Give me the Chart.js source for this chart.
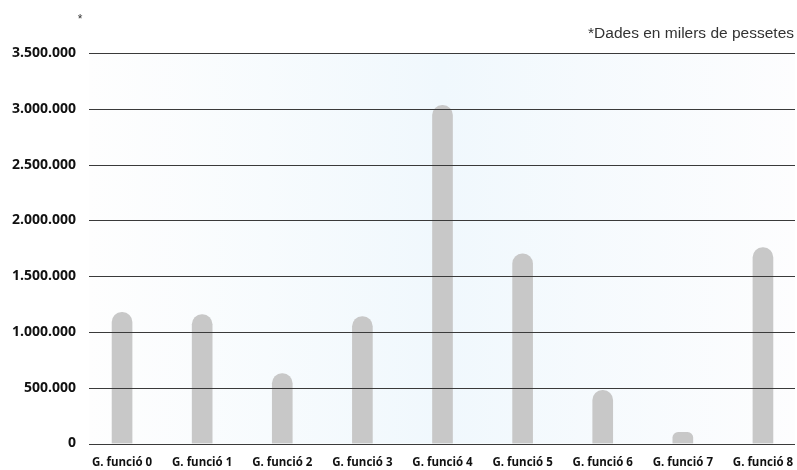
<!DOCTYPE html>
<html><head><meta charset="utf-8">
<script src="https://cdn.jsdelivr.net/npm/chart.js@4/dist/chart.umd.min.js"></script>
<style>
html,body{margin:0;padding:0;overflow:hidden;background:#fff;}
#wrap{width:810px;height:470px;position:relative;}
</style>
</head><body>
<div id="wrap"><canvas id="c"></canvas></div>
<script>
const categories = ['G. funció 0','G. funció 1','G. funció 2','G. funció 3','G. funció 4','G. funció 5','G. funció 6','G. funció 7','G. funció 8'];
const values = [1175000, 1155000, 627000, 1137000, 3030000, 1700000, 477000, 100000, 1755000];
const yTicks = [0, 500000, 1000000, 1500000, 2000000, 2500000, 3000000, 3500000];
const noteText = '*Dades en milers de pessetes';
const starText = '*';

function fmt(v){ return v.toString().replace(/\B(?=(\d{3})+(?!\d))/g, '.'); }

const GRID_L = 89, GRID_R = 795;

const decor = {
  id: 'decor',
  beforeDatasetsDraw(chart){
    const {ctx, chartArea:a} = chart;
    const g = ctx.createLinearGradient(GRID_L, 0, GRID_R, 0);
    g.addColorStop(0, '#fefefe');
    g.addColorStop(0.5, '#f0f8fd');
    g.addColorStop(1, '#fdfdfe');
    ctx.save();
    ctx.fillStyle = g;
    ctx.fillRect(GRID_L, a.top, GRID_R - GRID_L, a.bottom - a.top);
    ctx.restore();
  },
  afterDatasetsDraw(chart){
    const {ctx} = chart;
    const y = chart.scales.y;
    ctx.save();
    ctx.strokeStyle = '#3a3a3a';
    ctx.lineWidth = 1.2;
    yTicks.forEach(v => {
      const py = Math.round(y.getPixelForValue(v)) + 0.5;
      ctx.beginPath(); ctx.moveTo(GRID_L, py); ctx.lineTo(GRID_R, py); ctx.stroke();
    });
    ctx.restore();
  },
  afterDraw(chart){
    const {ctx} = chart;
    ctx.save();
    ctx.fillStyle = '#333';
    ctx.font = '15.5px "Liberation Sans", Arial, sans-serif';
    ctx.textAlign = 'right';
    ctx.textBaseline = 'alphabetic';
    ctx.fillText(noteText, 794, 38);
    ctx.font = '12px "Liberation Sans", Arial, sans-serif';
    ctx.textAlign = 'center';
    ctx.fillText(starText, 80, 23);
    ctx.restore();
  }
};

new Chart(document.getElementById('c'), {
  type: 'bar',
  data: {
    labels: categories,
    datasets: [{
      data: values,
      backgroundColor: '#c8c8c8',
      barThickness: 20,
      borderRadius: 10,
      borderSkipped: 'start'
    }]
  },
  options: {
    responsive: true,
    maintainAspectRatio: false,
    animation: false,
    layout: { padding: { top: 53, right: 7, left: 0, bottom: 0 } },
    plugins: { legend: { display: false }, tooltip: { enabled: false }, title: { display: false } },
    scales: {
      x: {
        offset: true,
        grid: { display: false, drawTicks: false },
        border: { display: false },
        ticks: { color: '#111', padding: 12, maxRotation: 0, font: { family: '"Open Sans", sans-serif', size: 11.5, weight: 'bold' } },
        afterFit(s){ s.height = 26.5; }
      },
      y: {
        min: 0, max: 3500000,
        grid: { display: false, drawTicks: false },
        border: { display: false },
        afterBuildTicks(s){ s.ticks = yTicks.map(v => ({ value: v })); },
        ticks: { color: '#111', padding: 6, callback: v => fmt(v), font: { family: '"Open Sans", sans-serif', size: 14, weight: 'bold' } },
        afterFit(s){ s.width = 82; }
      }
    }
  },
  plugins: [decor]
});
</script>
</body></html>
